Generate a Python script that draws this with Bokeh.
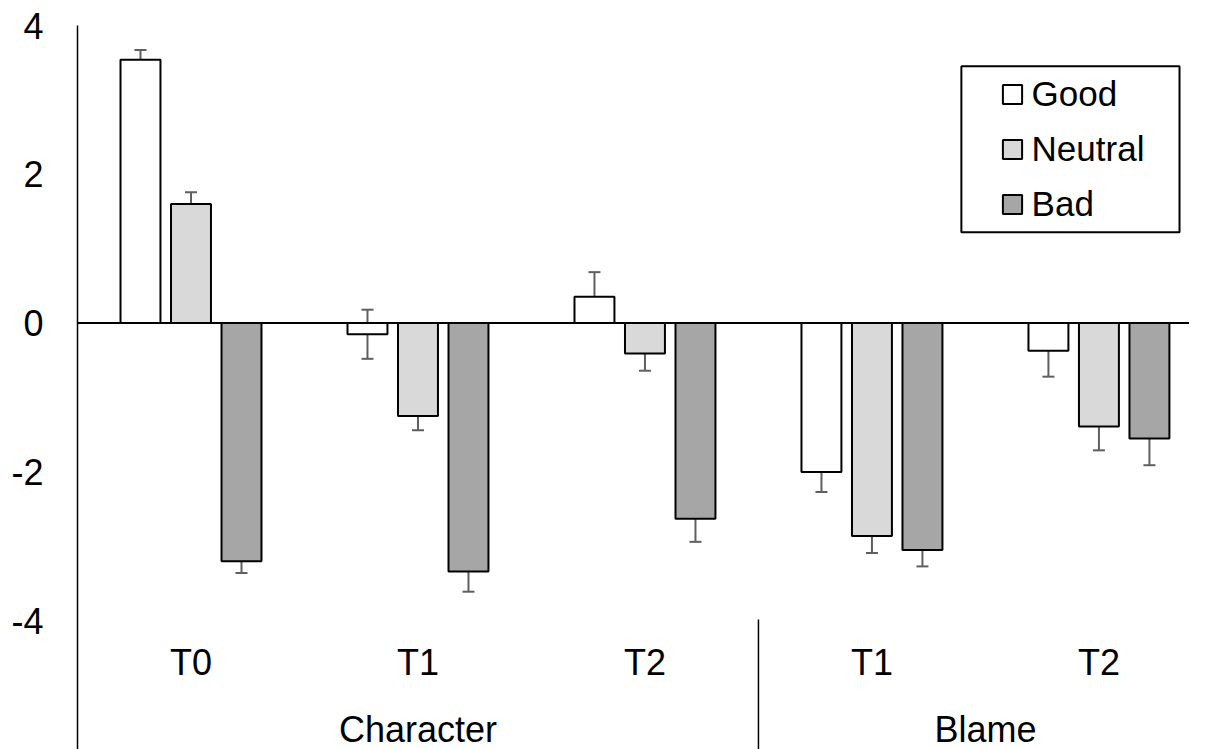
import numpy as np
from bokeh.plotting import figure
from bokeh.models import (ColumnDataSource, Whisker, TeeHead, Span, LinearAxis,
                          FixedTicker, Legend, LegendItem, BoxAnnotation, Range1d)
from bokeh.core.properties import value
from bokeh.embed import file_html
from bokeh.resources import INLINE

# ---- data ----
groups = ["Character", "Character", "Character", "Blame", "Blame"]
times = ["T0", "T1", "T2", "T1", "T2"]
series = ["Good", "Neutral", "Bad"]
good = [3.54, -0.15, 0.355, -2.00, -0.37]
neutral = [1.60, -1.25, -0.41, -2.86, -1.39]
bad = [-3.20, -3.34, -2.63, -3.05, -1.55]
good_err = [0.13, 0.33, 0.33, 0.27, 0.35]
neutral_err = [0.16, 0.19, 0.23, 0.23, 0.32]
bad_err = [0.16, 0.27, 0.31, 0.22, 0.36]
y_ticks = [-4, -2, 0, 2, 4]

values = [good, neutral, bad]
errors = [good_err, neutral_err, bad_err]
colors = ["#FFFFFF", "#D9D9D9", "#A6A6A6"]
offsets = [-0.2225, 0.0, 0.2225]
BAR_W = 0.176
FONT = "Liberation Sans"
Y_MIN = -5.731
X_MAX = 4.899

xs = np.arange(len(times)) + 0.5

p = figure(width=1189, height=749,
           x_range=Range1d(0, X_MAX), y_range=Range1d(Y_MIN, 4.0),
           output_backend="svg", toolbar_location=None,
           x_axis_location=None, y_axis_location=None,
           min_border_left=77, min_border_top=25,
           min_border_right=0, min_border_bottom=0)
for g in p.grid:
    g.visible = False
p.outline_line_color = None
p.background_fill_color = "white"

ax = LinearAxis(ticker=FixedTicker(ticks=y_ticks))
ax.major_label_overrides = {t: str(t) for t in y_ticks}
ax.axis_line_color = "black"
ax.axis_line_width = 1.5
ax.major_tick_out = 0
ax.major_tick_in = 0
ax.minor_tick_out = 0
ax.minor_tick_in = 0
ax.major_label_text_font = FONT
ax.major_label_text_font_size = "36px"
ax.major_label_text_color = "black"
ax.major_label_standoff = 34
p.add_layout(ax, "left")

p.add_layout(Span(location=0, dimension="width", line_color="black", line_width=2))

renderers = []
for vals, errs, col, off in zip(values, errors, colors, offsets):
    v = np.array(vals)
    e = np.array(errs)
    src = ColumnDataSource(dict(x=xs + off, top=v, lower=v - e, upper=v + e))
    r = p.vbar(x="x", top="top", bottom=0, width=BAR_W, source=src,
               fill_color=col, line_color="black", line_width=2)
    renderers.append(r)
    w = Whisker(source=src, base="x", lower="lower", upper="upper",
                line_color="#5f5f5f", line_width=2,
                upper_head=TeeHead(size=12, line_color="#5f5f5f", line_width=2),
                lower_head=TeeHead(size=12, line_color="#5f5f5f", line_width=2))
    p.add_layout(w)

# category labels
p.text(x=xs, y=[-4.555] * len(xs), text=times, text_align="center",
       text_baseline="middle", text_font=value(FONT), text_font_size="36px",
       text_color="black")
uniq = list(dict.fromkeys(groups))
gx = [float(np.mean([xs[i] for i, g in enumerate(groups) if g == u])) for u in uniq]
p.text(x=gx, y=[-5.46] * len(gx), text=uniq, text_align="center",
       text_baseline="middle", text_font=value(FONT), text_font_size="36px",
       text_color="black")
# group separators
seps = [float(i) for i in range(1, len(groups)) if groups[i] != groups[i - 1]]
p.segment(x0=seps, y0=[-3.984] * len(seps), x1=seps, y1=[Y_MIN] * len(seps),
          line_color="black", line_width=1.5)

# legend
p.add_layout(BoxAnnotation(left=3.894, right=4.855, top=3.452, bottom=1.220,
                           fill_alpha=0, line_color="black", line_alpha=1.0,
                           line_width=2))
legend = Legend(items=[LegendItem(label=s, renderers=[r]) for s, r in zip(series, renderers)],
                location=(922.6, 525), orientation="vertical", padding=0, spacing=15,
                margin=0, glyph_width=24, glyph_height=24, label_standoff=8,
                label_text_font=FONT, label_text_font_size="35px", label_height=40,
                label_text_color="black",
                border_line_color=None, background_fill_alpha=0)
p.add_layout(legend)

open("out.html", "w").write(file_html(p, INLINE))
